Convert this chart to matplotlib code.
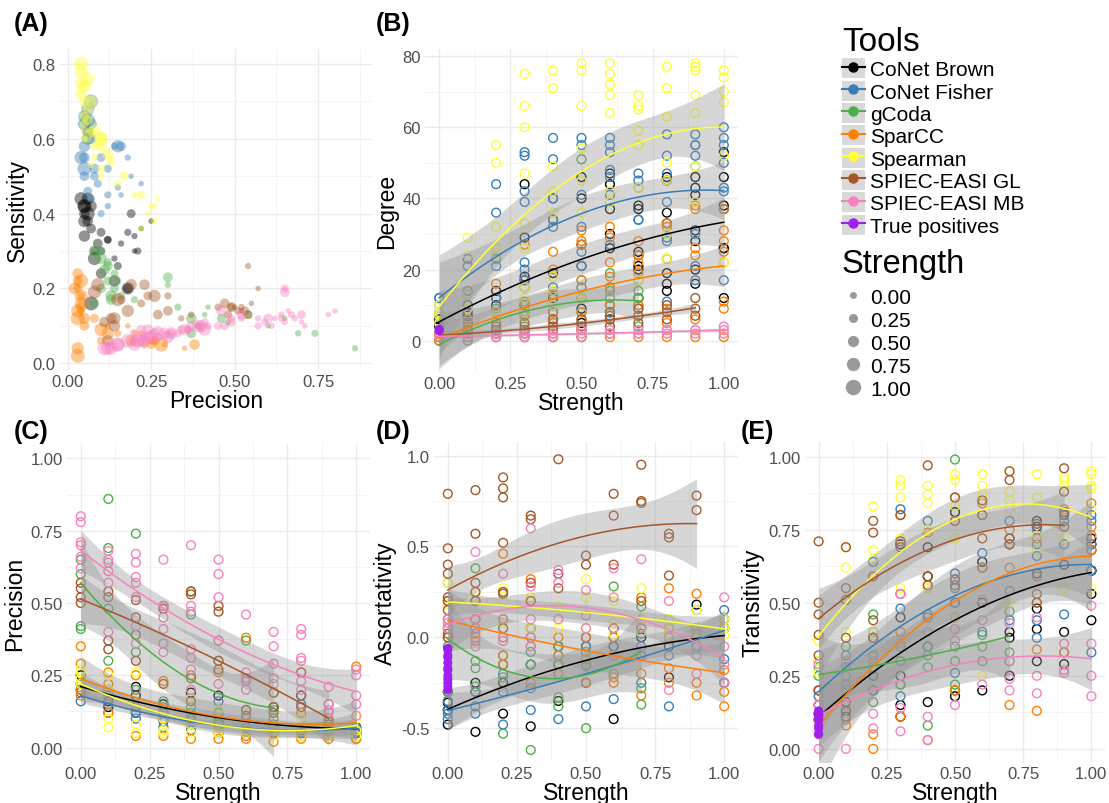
import numpy as np
import matplotlib
matplotlib.use('Agg')
import matplotlib.pyplot as plt
from matplotlib.lines import Line2D
from matplotlib.patches import Patch
from matplotlib.legend_handler import HandlerTuple

plt.rcParams['font.family'] = ['Liberation Sans', 'DejaVu Sans']

# ---------------------------------------------------------------- data
strengths = [0.0, 0.1, 0.2, 0.3, 0.4, 0.5, 0.6, 0.7, 0.8, 0.9, 1.0]
tools = ['CoNet Brown', 'CoNet Fisher', 'gCoda', 'SparCC', 'Spearman',
         'SPIEC-EASI GL', 'SPIEC-EASI MB']
tool_colors = ['#000000', '#377EB8', '#4DAF4A', '#FF7F00', '#FFFF33',
               '#A65628', '#F781BF']
true_label = 'True positives'
true_color = '#A020F0'
size_levels = [0.0, 0.25, 0.5, 0.75, 1.0]
size_labels = ['0.00', '0.25', '0.50', '0.75', '1.00']

# Degree (panel B), one list per strength level
deg_conet_brown = [[5, 4, 6, 7], [10, 8, 7, 5], [14, 12, 10, 8], [44, 29, 18, 17, 10, 8],
                   [40, 34, 19, 12, 8, 6], [46, 40, 27, 21, 12, 9, 5], [47, 44, 37, 30, 26, 10, 8, 6],
                   [38, 37, 25, 24, 21, 20, 12], [46, 45, 36, 33, 19, 16, 14],
                   [46, 43, 41, 31, 28, 20, 16], [53, 46, 38, 37, 26, 26, 12]]
deg_conet_fisher = [[12, 12, 10, 8], [23, 21, 14, 10, 13], [44, 36, 23, 21, 12, 8],
                    [53, 52, 42, 39, 22, 20, 17, 15, 10], [57, 51, 40, 34, 32, 15, 14],
                    [57, 55, 41, 32, 25, 21, 15], [57, 55, 53, 48, 46, 41, 27, 8],
                    [47, 45, 43, 34, 34, 17], [58, 52, 47, 39, 29, 28, 23, 11],
                    [58, 55, 55, 52, 49, 30, 21, 17], [60, 57, 55, 50, 43, 42, 17]]
deg_gcoda = [[0, 1, 2, 0], [1, 3, 5, 0], [9, 5, 2, 1], [10, 7, 4, 1], [14, 8, 5, 1],
             [51, 17, 12, 8, 1], [19, 15, 14, 12, 7, 2], [14, 12, 10, 9, 7, 4]]
deg_sparcc = [[1, 2, 1, 0], [6, 4, 2, 1], [16, 8, 5, 2, 1], [27, 15, 11, 7, 3, 1],
              [25, 20, 13, 8, 5, 3, 2, 1], [31, 28, 27, 17, 8, 6, 3, 1],
              [32, 29, 22, 18, 15, 10, 4, 1], [28, 24, 22, 19, 10, 1], [33, 32, 23, 9, 5, 1],
              [38, 37, 26, 24, 6, 1], [37, 31, 28, 25, 22, 11, 9, 1]]
deg_spearman = [[7, 8, 10, 5], [29, 24, 13, 9], [55, 50, 32, 26, 24, 8, 7],
                [75, 66, 60, 47, 33, 26, 15, 12, 8], [76, 71, 49, 42, 36, 18, 14, 10],
                [78, 76, 66, 54, 45, 36, 13, 12], [78, 75, 72, 69, 64, 42, 39, 7],
                [69, 66, 65, 59, 55, 43, 17], [77, 71, 63, 50, 45, 30, 23],
                [78, 77, 76, 69, 64, 49, 39], [76, 74, 70, 67, 52, 22]]
deg_se_gl = [[1, 2, 1], [2, 1, 3], [3, 2, 4], [3, 2, 5], [4, 3, 6], [6, 4, 3], [6, 4, 7],
             [7, 5, 9], [8, 6, 10], [12, 7, 9]]
deg_se_mb = [[1, 1, 2], [1, 1, 2], [1, 2, 1], [1, 2, 2], [2, 1, 2], [2, 1, 3], [2, 2, 3],
             [2, 3, 2], [2, 3, 3], [3, 2, 3], [3, 2, 4]]
deg_true = [3.0, 3.2, 2.8]

# Precision (panels A and C)
prec_conet_brown = [[0.22, 0.25, 0.20], [0.20, 0.16, 0.14], [0.21, 0.18, 0.12], [0.15, 0.12, 0.10],
                    [0.19, 0.10, 0.08], [0.18, 0.09, 0.07], [0.10, 0.06, 0.05], [0.14, 0.07, 0.05],
                    [0.18, 0.06, 0.05], [0.08, 0.05, 0.04], [0.07, 0.06, 0.05]]
prec_conet_fisher = [[0.16, 0.19, 0.22], [0.18, 0.15, 0.12], [0.14, 0.12, 0.10], [0.12, 0.09, 0.07],
                     [0.10, 0.08, 0.06], [0.16, 0.08, 0.05], [0.07, 0.05, 0.06], [0.06, 0.05, 0.07],
                     [0.15, 0.05, 0.06], [0.05, 0.06, 0.04], [0.07, 0.06, 0.05]]
prec_gcoda = [[0.65, 0.60, 0.42, 0.41], [0.86, 0.69, 0.48, 0.30], [0.74, 0.33, 0.20, 0.15],
              [0.16, 0.14, 0.12], [0.54, 0.46, 0.14, 0.12, 0.10], [0.37, 0.30, 0.12, 0.10, 0.08],
              [0.37, 0.13, 0.11], [0.13, 0.10, 0.08]]
prec_sparcc = [[0.35, 0.29, 0.20, 0.18], [0.26, 0.22, 0.12], [0.25, 0.15, 0.04], [0.23, 0.10, 0.04],
               [0.25, 0.08, 0.03], [0.26, 0.05, 0.03], [0.38, 0.04, 0.03], [0.19, 0.05, 0.02],
               [0.12, 0.04, 0.03], [0.10, 0.04, 0.03], [0.28, 0.04, 0.03, 0.03]]
prec_spearman = [[0.27, 0.24, 0.22, 0.26], [0.25, 0.20, 0.10, 0.07], [0.26, 0.15, 0.08, 0.05],
                 [0.22, 0.10, 0.06, 0.05], [0.17, 0.08, 0.05], [0.13, 0.07, 0.05], [0.10, 0.06, 0.05],
                 [0.12, 0.06, 0.04], [0.10, 0.07, 0.04], [0.08, 0.05, 0.04], [0.10, 0.06, 0.04]]
prec_se_gl = [[0.57, 0.55, 0.52, 0.50], [0.54, 0.52, 0.37, 0.34], [0.51, 0.45, 0.39, 0.30],
              [0.49, 0.48, 0.22], [0.54, 0.53, 0.24, 0.16], [0.49, 0.47, 0.30, 0.27],
              [0.23, 0.13, 0.11], [0.19, 0.14, 0.12], [0.26, 0.18, 0.14], [0.15, 0.09, 0.08]]
prec_se_mb = [[0.80, 0.78, 0.71, 0.70, 0.66, 0.62], [0.68, 0.65, 0.64, 0.61, 0.57, 0.40],
              [0.67, 0.64, 0.59, 0.57, 0.52, 0.42, 0.36], [0.65, 0.49, 0.45, 0.41, 0.36, 0.33],
              [0.70, 0.49, 0.47, 0.34, 0.31, 0.27, 0.20], [0.65, 0.60, 0.52, 0.37, 0.22],
              [0.46, 0.26, 0.24, 0.23, 0.20], [0.40, 0.35, 0.29, 0.24, 0.22],
              [0.41, 0.39, 0.31, 0.30, 0.23, 0.20], [0.21, 0.15, 0.13, 0.12],
              [0.27, 0.25, 0.18, 0.15, 0.11]]

# Sensitivity (panel A), paired with the precision lists above
sens_conet_brown = [[0.36, 0.38, 0.30], [0.34, 0.32, 0.28], [0.30, 0.35, 0.33], [0.26, 0.33, 0.30],
                    [0.40, 0.35, 0.30], [0.20, 0.32, 0.36], [0.24, 0.38, 0.40], [0.22, 0.42, 0.34],
                    [0.20, 0.44, 0.38], [0.28, 0.42, 0.44], [0.16, 0.40, 0.42]]
sens_conet_fisher = [[0.45, 0.50, 0.48], [0.55, 0.47, 0.42], [0.58, 0.45, 0.40], [0.52, 0.48, 0.44],
                     [0.55, 0.50, 0.46], [0.58, 0.52, 0.50], [0.60, 0.55, 0.62], [0.62, 0.58, 0.64],
                     [0.58, 0.66, 0.60], [0.64, 0.68, 0.55], [0.70, 0.65, 0.52]]
sens_gcoda = [[0.12, 0.10, 0.15, 0.13], [0.04, 0.08, 0.11, 0.21], [0.08, 0.15, 0.17, 0.22],
              [0.18, 0.24, 0.27], [0.13, 0.12, 0.20, 0.22, 0.30], [0.08, 0.23, 0.26, 0.20, 0.16],
              [0.12, 0.17, 0.25], [0.18, 0.28, 0.30]]
sens_sparcc = [[0.04, 0.05, 0.08, 0.10], [0.06, 0.08, 0.10], [0.06, 0.08, 0.14], [0.05, 0.06, 0.18],
               [0.05, 0.12, 0.20], [0.06, 0.10, 0.22], [0.05, 0.15, 0.24], [0.06, 0.12, 0.20],
               [0.08, 0.16, 0.04], [0.09, 0.18, 0.14], [0.05, 0.22, 0.02, 0.12]]
sens_spearman = [[0.44, 0.40, 0.36, 0.42], [0.42, 0.45, 0.50, 0.53], [0.38, 0.48, 0.55, 0.60],
                 [0.45, 0.52, 0.60, 0.62], [0.50, 0.58, 0.64], [0.54, 0.62, 0.66], [0.58, 0.65, 0.70],
                 [0.56, 0.68, 0.72], [0.60, 0.70, 0.75], [0.62, 0.74, 0.78], [0.60, 0.76, 0.80]]
sens_se_gl = [[0.20, 0.16, 0.14, 0.15], [0.26, 0.15, 0.13, 0.12], [0.14, 0.15, 0.10, 0.18],
              [0.15, 0.13, 0.16], [0.13, 0.14, 0.18, 0.17], [0.15, 0.16, 0.14, 0.13],
              [0.21, 0.12, 0.11], [0.21, 0.10, 0.06], [0.18, 0.14, 0.12], [0.17, 0.21, 0.19]]
sens_se_mb = [[0.14, 0.13, 0.10, 0.11, 0.14, 0.12], [0.12, 0.11, 0.13, 0.10, 0.12, 0.09],
              [0.13, 0.12, 0.11, 0.10, 0.12, 0.10, 0.09], [0.20, 0.12, 0.10, 0.11, 0.09, 0.08],
              [0.13, 0.11, 0.10, 0.09, 0.08, 0.07, 0.08], [0.19, 0.12, 0.13, 0.10, 0.09],
              [0.14, 0.08, 0.09, 0.07, 0.06], [0.10, 0.09, 0.08, 0.07, 0.06],
              [0.09, 0.10, 0.08, 0.07, 0.06, 0.05], [0.06, 0.05, 0.04, 0.04],
              [0.08, 0.07, 0.06, 0.05, 0.04]]

# Assortativity (panel D)
assort_conet_brown = [[-0.48, -0.40, -0.30, -0.36], [-0.52, -0.30, -0.25], [-0.42, -0.25, -0.15],
                      [-0.49, -0.15, 0.05], [-0.35, -0.15, -0.05], [-0.25, -0.05, 0.00],
                      [-0.45, -0.05, 0.05], [-0.10, 0.00, 0.05], [-0.22, -0.05, 0.05],
                      [0.00, 0.05, 0.18], [-0.25, 0.05, 0.10]]
assort_conet_fisher = [[-0.45, -0.40, -0.35, -0.42], [-0.42, -0.38, -0.30], [-0.48, -0.30, -0.20],
                       [-0.40, -0.28, -0.15], [-0.45, -0.20, -0.10], [-0.38, -0.15, -0.05],
                       [-0.34, -0.10, 0.00], [-0.25, -0.05, 0.02], [-0.38, -0.10, 0.05],
                       [-0.05, 0.05, 0.15], [-0.12, 0.05, 0.15]]
assort_gcoda = [[0.30, -0.05, -0.30], [0.38, -0.13, -0.17, -0.27], [-0.10, -0.22, -0.53],
                [0.00, -0.08, -0.15, -0.62], [-0.05, -0.15, -0.33, -0.38], [-0.08, -0.16, -0.50],
                [0.28, -0.10, -0.20], [0.17, -0.28, -0.37]]
assort_sparcc = [[0.20, 0.05, 0.00], [0.20, 0.02, -0.02], [0.46, 0.00, -0.10, -0.15],
                 [0.32, -0.05, -0.25], [0.00, -0.10, -0.20], [0.00, -0.12, -0.25],
                 [0.00, -0.22, -0.25], [0.22, -0.20, -0.32], [0.27, -0.17, -0.25],
                 [0.24, -0.25, -0.32], [-0.18, -0.30, -0.38]]
assort_spearman = [[0.30, 0.18, 0.10], [0.25, 0.22, 0.10], [0.27, 0.20, 0.08], [0.22, 0.20, 0.05],
                   [0.17, 0.10, 0.05], [0.32, 0.22, 0.05], [0.20, 0.08, 0.02], [0.27, 0.10, 0.03],
                   [0.10, 0.05, 0.02], [0.15, 0.05, 0.00], [0.10, 0.05, 0.01]]
assort_se_gl = [[0.79, 0.49, 0.40, 0.35, 0.22, 0.20, 0.15, 0.10, 0.05, 0.02, 0.00],
                [0.81, 0.57, 0.30, 0.20, 0.25, 0.10, 0.05],
                [0.88, 0.82, 0.77, 0.52, 0.25, 0.24, 0.10, 0.05],
                [0.67, 0.65, 0.30, 0.20], [0.98, 0.35, 0.27], [0.45, 0.40], [0.79, 0.67, 0.40],
                [0.95, 0.75, 0.74, 0.20], [0.57, 0.55, 0.34], [0.78, 0.70]]
assort_se_mb = [[0.10, 0.05, 0.08], [0.47, 0.10, 0.05, 0.00, -0.05], [0.35, 0.10, 0.00, -0.02],
                [0.60, 0.28, 0.10, 0.00, -0.05], [0.37, 0.30, 0.10], [0.26, 0.12, 0.05],
                [0.38, 0.22, 0.05, -0.10], [0.43, 0.05, -0.10], [0.20, 0.00, -0.29],
                [0.02, -0.10, -0.20], [0.22, -0.05, -0.25, -0.15]]
assort_true = [-0.06, -0.07, -0.10, -0.11, -0.14, -0.17, -0.18, -0.21, -0.23, -0.25, -0.27, -0.29]

# Transitivity (panel E)
trans_conet_brown = [[0.15, 0.10, 0.12], [0.11, 0.13, 0.16], [0.38, 0.25, 0.20],
                     [0.70, 0.45, 0.25, 0.11, 0.15], [0.69, 0.59, 0.16, 0.35],
                     [0.81, 0.50, 0.45, 0.18, 0.20], [0.62, 0.64, 0.20, 0.50],
                     [0.72, 0.70, 0.40, 0.38, 0.25], [0.78, 0.76, 0.60, 0.48, 0.41, 0.30],
                     [0.81, 0.80, 0.63, 0.40, 0.29], [0.72, 0.70, 0.68, 0.61, 0.61, 0.53, 0.44]]
trans_conet_fisher = [[0.20, 0.15, 0.18], [0.28, 0.22, 0.32], [0.64, 0.40, 0.32, 0.20],
                      [0.82, 0.48, 0.30, 0.18, 0.22], [0.78, 0.46, 0.35],
                      [0.60, 0.58, 0.50, 0.55, 0.26], [0.67, 0.62, 0.40], [0.78, 0.54, 0.44],
                      [0.77, 0.75, 0.70, 0.66, 0.44, 0.38], [0.80, 0.78, 0.70, 0.46, 0.33],
                      [0.80, 0.78, 0.70, 0.61, 0.33]]
trans_gcoda = [[0.20, 0.25, 0.30, 0.28], [0.35, 0.25, 0.20], [0.46, 0.16, 0.28], [0.35, 0.22, 0.30],
               [0.32, 0.08, 0.28], [0.99, 0.35, 0.30, 0.22, 0.20], [0.39, 0.30, 0.35],
               [0.47, 0.33, 0.30]]
trans_sparcc = [[0.20, 0.15, 0.10], [0.10, 0.08, 0.15], [0.38, 0.30, 0.05, 0.00], [0.80, 0.40, 0.11],
                [0.74, 0.55, 0.03], [0.86, 0.78, 0.20], [0.84, 0.80, 0.62], [0.75, 0.70, 0.62, 0.15],
                [0.72, 0.50, 0.34, 0.13], [0.82, 0.76, 0.33], [0.84, 0.76, 0.73, 0.68]]
trans_spearman = [[0.37, 0.30, 0.26], [0.69, 0.62, 0.40, 0.30], [0.83, 0.68, 0.65, 0.40, 0.30],
                  [0.92, 0.90, 0.86, 0.72, 0.55], [0.90, 0.87, 0.84, 0.75, 0.55],
                  [0.94, 0.92, 0.83, 0.72, 0.45], [0.94, 0.90, 0.87, 0.80, 0.25],
                  [0.95, 0.88, 0.85, 0.82, 0.50], [0.94, 0.86, 0.73, 0.68],
                  [0.93, 0.92, 0.90, 0.72, 0.55], [0.95, 0.94, 0.90, 0.89, 0.82, 0.55]]
trans_se_gl = [[0.71, 0.50, 0.46, 0.39, 0.32, 0.20], [0.69, 0.55, 0.51, 0.38],
               [0.78, 0.74, 0.59, 0.44, 0.38], [0.80, 0.71, 0.69, 0.53], [0.97, 0.59, 0.56, 0.45],
               [0.86, 0.78, 0.58, 0.56], [0.85, 0.80, 0.72], [0.95, 0.92, 0.72, 0.70],
               [0.77, 0.59, 0.53, 0.50], [0.96, 0.88, 0.81, 0.76]]
trans_se_mb = [[0.00, 0.05, 0.15, 0.29], [0.00, 0.20, 0.30], [0.07, 0.12, 0.30],
               [0.06, 0.14, 0.36, 0.53], [0.03, 0.11, 0.40], [0.15, 0.37, 0.41], [0.22, 0.44, 0.51],
               [0.20, 0.24, 0.43, 0.30], [0.19, 0.25, 0.45], [0.27, 0.26, 0.36],
               [0.18, 0.25, 0.49, 0.36]]
trans_true = [0.05, 0.07, 0.08, 0.10, 0.11, 0.12, 0.13]

degree = [deg_conet_brown, deg_conet_fisher, deg_gcoda, deg_sparcc, deg_spearman, deg_se_gl, deg_se_mb]
precision = [prec_conet_brown, prec_conet_fisher, prec_gcoda, prec_sparcc, prec_spearman, prec_se_gl, prec_se_mb]
sensitivity = [sens_conet_brown, sens_conet_fisher, sens_gcoda, sens_sparcc, sens_spearman, sens_se_gl, sens_se_mb]
assort = [assort_conet_brown, assort_conet_fisher, assort_gcoda, assort_sparcc, assort_spearman, assort_se_gl, assort_se_mb]
trans = [trans_conet_brown, trans_conet_fisher, trans_gcoda, trans_sparcc, trans_spearman, trans_se_gl, trans_se_mb]

x_major = [0.0, 0.25, 0.5, 0.75, 1.0]
x_minor = [0.125, 0.375, 0.625, 0.875]
x_labels = ['0.00', '0.25', '0.50', '0.75', '1.00']

# ---------------------------------------------------------------- helpers
W, H = 1109, 804
fig = plt.figure(figsize=(W / 100, H / 100), dpi=100)

TICK_FS = 12
TITLE_FS = 16.5
GREY_TXT = '#4D4D4D'


def px_axes(l, t, r, b):
    return fig.add_axes([l / W, 1 - b / H, (r - l) / W, (b - t) / H])


def flatten(groups):
    xs, ys = [], []
    for s, vals in zip(strengths, groups):
        xs += [s] * len(vals)
        ys += list(vals)
    return np.array(xs), np.array(ys)


def pt_size(strength):
    # marker diameter in px grows with strength
    d_px = 5.5 + 8.5 * strength
    return d_px * 72 / 100


def smooth(ax, groups, color):
    # quadratic fit with 95% band, drawn like geom_smooth
    x, y = flatten(groups)
    X = np.vander(x, 3)
    beta, *_ = np.linalg.lstsq(X, y, rcond=None)
    resid = y - X @ beta
    s2 = resid @ resid / (len(y) - 3)
    cov = s2 * np.linalg.inv(X.T @ X)
    xg = np.linspace(x.min(), x.max(), 80)
    G = np.vander(xg, 3)
    fit = G @ beta
    se = np.sqrt(np.einsum('ij,jk,ik->i', G, cov, G))
    ax.fill_between(xg, fit - 2.0 * se, fit + 2.0 * se, color='#999999', alpha=0.4, lw=0)
    ax.plot(xg, fit, color=color, lw=1.1)


def style(ax, xlim, ylim, xmaj, xmin, xlab, ymaj, ymin, ylab, xtitle, ytitle):
    ax.set_xlim(*xlim)
    ax.set_ylim(*ylim)
    ax.set_xticks(xmaj)
    ax.set_xticklabels(xlab)
    ax.set_xticks(xmin, minor=True)
    ax.set_yticks(ymaj)
    ax.set_yticklabels(ylab)
    ax.set_yticks(ymin, minor=True)
    ax.grid(which='major', color='#EBEBEB', lw=1.0)
    ax.grid(which='minor', color='#F3F3F3', lw=0.6)
    ax.set_axisbelow(True)
    ax.tick_params(which='both', length=0, labelsize=TICK_FS, labelcolor=GREY_TXT, pad=3)
    for sp in ax.spines.values():
        sp.set_visible(False)
    ax.set_xlabel(xtitle, fontsize=TITLE_FS, labelpad=0)
    ax.set_ylabel(ytitle, fontsize=TITLE_FS, labelpad=3)


def strength_panel(ax, metric, true_vals):
    for groups, c in zip(metric, tool_colors):
        x, y = flatten(groups)
        ax.scatter(x, y, s=40, facecolors='none', edgecolors=c, linewidths=1.0)
    for groups, c in zip(metric, tool_colors):
        smooth(ax, groups, c)
    ax.scatter([strengths[0]] * len(true_vals), true_vals, s=42, color=true_color,
               edgecolors='none', zorder=5)


# ---------------------------------------------------------------- (A)
axA = px_axes(60, 50, 372, 371)
for prec, sens, c in zip(precision, sensitivity, tool_colors):
    for s, pg, sg in zip(strengths, prec, sens):
        for p, v in zip(pg, sg):
            axA.scatter(p, v, s=pt_size(s) ** 2, color=c, alpha=0.42, edgecolors='none')
style(axA, (-0.023, 0.911), (-0.018, 0.84),
      [0.0, 0.25, 0.5, 0.75], [0.125, 0.375, 0.625, 0.875], x_labels[:4],
      [0.0, 0.2, 0.4, 0.6, 0.8], [0.1, 0.3, 0.5, 0.7], ['0.0', '0.2', '0.4', '0.6', '0.8'],
      'Precision', 'Sensitivity')

# ---------------------------------------------------------------- (B)
axB = px_axes(425, 50, 738, 373)
strength_panel(axB, degree, deg_true)
style(axB, (-0.05, 1.05), (-8.8, 82), x_major, x_minor, x_labels,
      [0, 20, 40, 60, 80], [10, 30, 50, 70], ['0', '20', '40', '60', '80'],
      'Strength', 'Degree')

# ---------------------------------------------------------------- (C)
axC = px_axes(67, 445, 370, 763)
for groups, c in zip(precision, tool_colors):
    x, y = flatten(groups)
    axC.scatter(x, y, s=40, facecolors='none', edgecolors=c, linewidths=1.0)
for groups, c in zip(precision, tool_colors):
    smooth(axC, groups, c)
style(axC, (-0.05, 1.05), (-0.05, 1.05), x_major, x_minor, x_labels,
      x_major, x_minor, x_labels, 'Strength', 'Precision')

# ---------------------------------------------------------------- (D)
axD = px_axes(434, 443, 738, 763)
strength_panel(axD, assort, assort_true)
style(axD, (-0.05, 1.05), (-0.686, 1.075), x_major, x_minor, x_labels,
      [-0.5, 0.0, 0.5, 1.0], [-0.25, 0.25, 0.75], ['-0.5', '0.0', '0.5', '1.0'],
      'Strength', 'Assortativity')

# ---------------------------------------------------------------- (E)
axE = px_axes(805, 443, 1105, 763)
strength_panel(axE, trans, trans_true)
style(axE, (-0.05, 1.05), (-0.045, 1.05), x_major, x_minor, x_labels,
      x_major, x_minor, x_labels, 'Strength', 'Transitivity')

# panel tags
for tag, xp, yp in [('(A)', 14, 12), ('(B)', 376, 12), ('(C)', 14, 420),
                    ('(D)', 376, 420), ('(E)', 741, 420)]:
    fig.text(xp / W, 1 - yp / H, tag, fontsize=18, fontweight='bold', va='top', ha='left')

# ---------------------------------------------------------------- legends
tool_handles = [(Patch(facecolor='#D9D9D9', edgecolor='none'),
                 Line2D([], [], color=c, lw=1.5, marker='o', ms=6.5))
                for c in tool_colors + [true_color]]
fig.legend(tool_handles, tools + [true_label], handler_map={tuple: HandlerTuple(ndivide=1)},
           loc='upper left', bbox_to_anchor=(842 / W, 1 - 27 / H), frameon=False,
           fontsize=15, title='Tools', title_fontsize=24, alignment='left',
           handlelength=1.1, handleheight=1.1, handletextpad=0.25, labelspacing=0.06,
           borderpad=0, borderaxespad=0)

fig.text(842 / W, 1 - 265 / H, 'Strength', fontsize=23.5, va='center', ha='left')
size_handles = [Line2D([], [], ls='none', marker='o', ms=pt_size(s), color='#999999')
                for s in size_levels]
fig.legend(size_handles, size_labels, loc='upper left', bbox_to_anchor=(842 / W, 1 - 288 / H),
           frameon=False, fontsize=15, alignment='left', handlelength=1.1, handleheight=1.0,
           handletextpad=0.25, labelspacing=0.12, borderpad=0, borderaxespad=0)

fig.savefig('out.png', dpi=100)
